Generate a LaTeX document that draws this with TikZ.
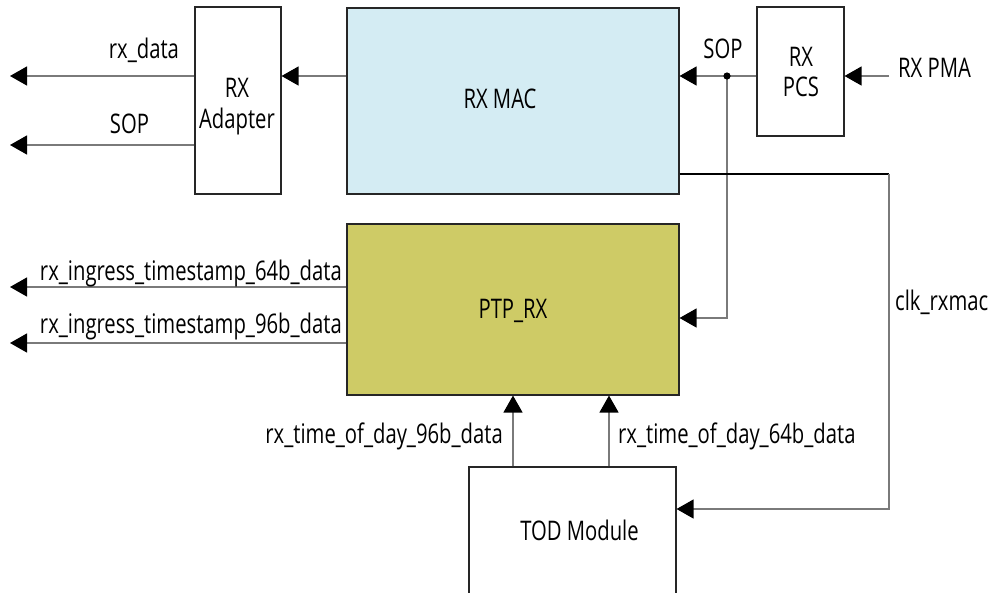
\documentclass[tikz,border=0pt]{standalone}
\usepackage{fontspec}
\setmainfont{Open Sans}[FakeStretch=0.75]
\usetikzlibrary{arrows.meta,calc}
\definecolor{macblue}{HTML}{D4ECF3}
\definecolor{ptpolive}{HTML}{CECB66}
\definecolor{linegray}{HTML}{7A7A7A}
\begin{document}
\begin{tikzpicture}[x=1pt,y=-1pt,
  box/.style={draw=black!85,line width=1.1pt,inner sep=0pt},
  conn/.style={draw=linegray,line width=1.3pt,-{Triangle[length=17pt,width=19pt,color=black]}},
  lbl/.style={font=\fontsize{27}{32}\selectfont,inner sep=0pt}]
\useasboundingbox (0,0) rectangle (990,592);
\clip (0,0) rectangle (990,592);
% boxes
\node[box,minimum width=86pt,minimum height=187pt] (adapter) at (238,100.5) {};
\node[box,fill=macblue,minimum width=332pt,minimum height=186pt] (mac) at (513,101) {};
\node[box,minimum width=87pt,minimum height=129pt] (pcs) at (800.5,71.5) {};
\node[box,fill=ptpolive,minimum width=332pt,minimum height=171pt] (ptp) at (513,309.5) {};
\node[box,minimum width=207pt,minimum height=143pt] (tod) at (572.5,538.5) {};
% box texts
\node[lbl,anchor=base] (adt1) at (237,97) {RX};
\node[lbl,anchor=base] (adt2) at (237,128) {Adapter};
\node[lbl,anchor=base] (mact) at (500,108) {RX MAC};
\node[lbl,anchor=base] (pcst1) at (801,66) {RX};
\node[lbl,anchor=base] (pcst2) at (801,96) {PCS};
\node[lbl,anchor=base] (ptpt) at (513,318) {PTP\_RX};
\node[lbl,anchor=base] (todt) at (579.5,540) {TOD Module};
% helper coordinates
\coordinate (yA) at (0,76);
\coordinate (yB) at (0,145);
\coordinate (yC) at (0,287);
\coordinate (yD) at (0,343);
\coordinate (yClk) at (0,174);
\coordinate (yPtpIn) at (0,318);
\coordinate (yTod) at (0,509);
\coordinate (outA) at (10,76);
\coordinate (outB) at (10,145);
\coordinate (outC) at (10,287);
\coordinate (outD) at (10,343);
\coordinate (pma) at (889,76);
\coordinate (dot) at (727,76);
\coordinate (clkR) at (889,174);
\coordinate (clkB) at (889,509);
\coordinate (x96) at (513,0);
\coordinate (x64) at (609,0);
% connectors
\draw[conn] (mac.west |- yA) -- (adapter.east |- yA);
\draw[conn] (adapter.west |- yA) -- (outA);
\draw[conn] (adapter.west |- yB) -- (outB);
\draw[conn] (pma) -- (pcs.east |- yA);
\draw[conn] (pcs.west |- yA) -- (mac.east |- yA);
\draw[conn] (dot) -- (dot |- yPtpIn) -- (ptp.east |- yPtpIn);
\fill[black] (dot) circle (3.6pt);
\draw[black,line width=1.1pt] (mac.east |- yClk) -- (clkR);
\draw[conn] (clkR) -- (clkB) -- (tod.east |- yTod);
\draw[conn] (ptp.west |- yC) -- (outC);
\draw[conn] (ptp.west |- yD) -- (outD);
\draw[conn] (tod.north -| x96) -- (ptp.south -| x96);
\draw[conn] (tod.north -| x64) -- (ptp.south -| x64);
% labels
\node[lbl,anchor=base] (lrxdata) at (144,58) {rx\_data};
\node[lbl,anchor=base] (lsopl) at (129.5,133) {SOP};
\node[lbl,anchor=base] (lsopr) at (723,58) {SOP};
\node[lbl,anchor=base west] (lpma) at (898,77) {RX PMA};
\node[lbl,anchor=base west] (lclk) at (895,310) {clk\_rxmac};
\node[lbl,anchor=base east] (l64) at (342,280) {rx\_ingress\_timestamp\_64b\_data};
\node[lbl,anchor=base east] (l96) at (342,333) {rx\_ingress\_timestamp\_96b\_data};
\node[lbl,anchor=base east] (ltod96) at (503,443) {rx\_time\_of\_day\_96b\_data};
\node[lbl,anchor=base west] (ltod64) at (618,443) {rx\_time\_of\_day\_64b\_data};
\end{tikzpicture}
\end{document}
